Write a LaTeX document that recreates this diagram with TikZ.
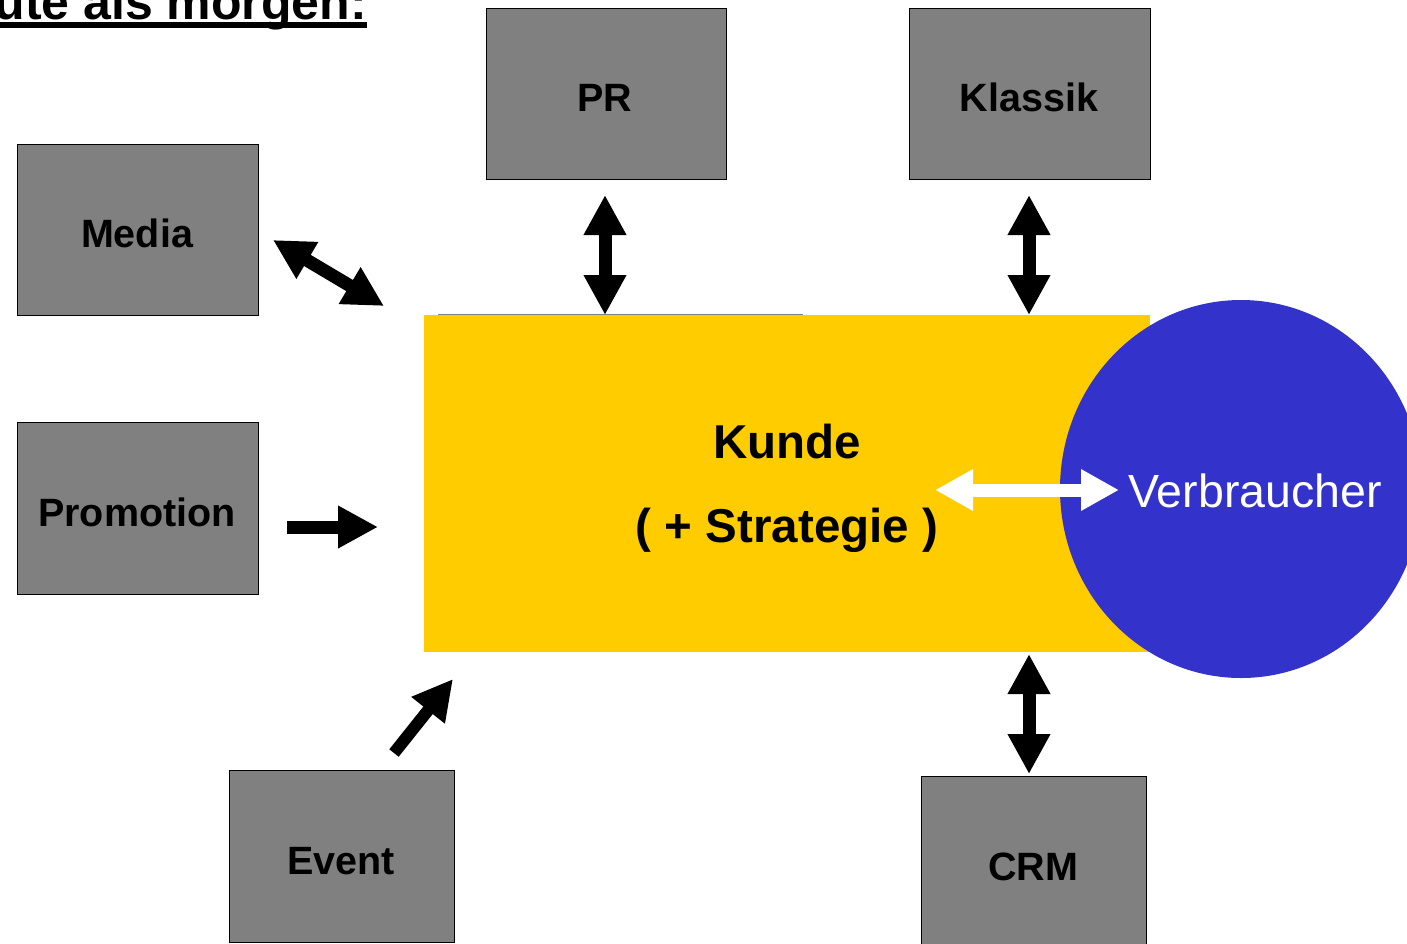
\documentclass[tikz,border=0pt]{standalone}
\usepackage{fontspec}
\setmainfont{Liberation Sans}
\usetikzlibrary{arrows.meta,shapes.geometric}
\definecolor{boxgray}{HTML}{808080}
\definecolor{kyellow}{HTML}{FFCC00}
\definecolor{vblue}{HTML}{3333CC}
\begin{document}
\begin{tikzpicture}[x=1pt,y=-1pt,
  box/.style={draw=black, line width=1.5pt, fill=boxgray, inner sep=0pt, anchor=north west},
  lbl/.style={anchor=base, inner sep=0pt, font=\fontsize{39.5}{46}\selectfont\bfseries},
  fat/.style={line width=13pt, -{Triangle[length=40pt,width=40pt]}},
  dfat/.style={line width=13pt, {Triangle[length=40pt,width=40pt]}-{Triangle[length=40pt,width=40pt]}},
  wfat/.style={white, line width=13pt, {Triangle[length=38pt,width=39pt]}-{Triangle[length=38pt,width=39pt]}}
]
\useasboundingbox (0,0) rectangle (1407,943);
\clip (0,0) rectangle (1407,943);

% title fragment
\node[anchor=base east, inner sep=0pt, font=\fontsize{50}{58}\selectfont\bfseries] (title) at (367,19) {ute als morgen:};
\fill[black] (0,22) rectangle (367,28);

% central customer block and consumer
\draw[gray, line width=1pt] (438,314) -- (803,314);
\node[fill=kyellow, anchor=north west, inner sep=0pt, minimum width=726pt, minimum height=337pt] (kunde) at (424,315) {};
\node[ellipse, fill=vblue, inner sep=0pt, minimum width=362pt, minimum height=378pt] (verb) at (1241,489) {};

% boxes
\node[box, minimum width=240pt, minimum height=171pt] (pr) at (485.5,7.5) {};
\node[box, minimum width=241pt, minimum height=171pt] (klassik) at (908.5,7.5) {};
\node[box, minimum width=241pt, minimum height=171pt] (media) at (16.5,143.5) {};
\node[box, minimum width=241pt, minimum height=172pt] (promo) at (16.5,421.5) {};
\node[box, minimum width=225pt, minimum height=172pt] (event) at (228.5,769.5) {};
\node[box, minimum width=225pt, minimum height=172pt] (crm) at (920.5,775.5) {};

% labels
\node[lbl] at (605,111) {PR};
\node[lbl] at (1029,111) {Klassik};
\node[lbl] at (137,247) {Media};
\node[lbl] at (137,526) {Promotion};
\node[lbl] at (341,874) {Event};
\node[lbl] at (1033,880) {CRM};
\node[anchor=base, inner sep=0pt, font=\fontsize{47.5}{56}\selectfont\bfseries] at (787,458) {Kunde};
\node[anchor=base, inner sep=0pt, font=\fontsize{47.5}{56}\selectfont\bfseries] at (787,542) {( + Strategie )};
\node[anchor=base, inner sep=0pt, text=white, font=\fontsize{46.5}{56}\selectfont] at (1255,507) {Verbraucher};

% arrow end points
\coordinate (prA) at (605,195);
\coordinate (prB) at (605,315);
\coordinate (klA) at (1029,195);
\coordinate (klB) at (1029,315);
\coordinate (crA) at (1029,654);
\coordinate (crB) at (1029,774);
\coordinate (meA) at (273,240);
\coordinate (meB) at (384,306);
\coordinate (poA) at (287,527);
\coordinate (poB) at (378,527);
\coordinate (evA) at (394,753);
\coordinate (evB) at (453,679);
\coordinate (vbA) at (935,490);
\coordinate (vbB) at (1119,490);

% arrows
\draw[dfat] (prA) -- (prB);
\draw[dfat] (klA) -- (klB);
\draw[dfat] (crA) -- (crB);
\draw[dfat] (meA) -- (meB);
\draw[fat] (poA) -- (poB);
\draw[fat, line width=12pt] (evA) -- (evB);
\draw[wfat] (vbA) -- (vbB);
\end{tikzpicture}
\end{document}
